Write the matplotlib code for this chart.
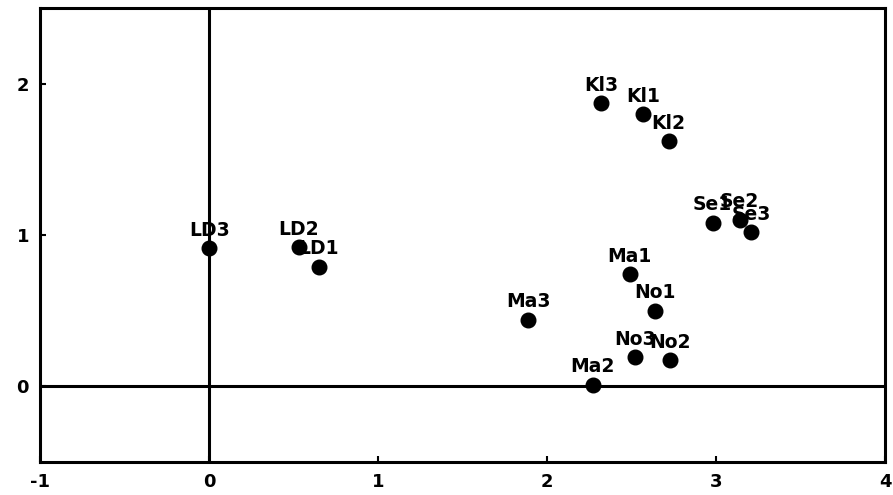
import matplotlib
matplotlib.use("Agg")
import matplotlib.pyplot as plt

# Sample scores on the first two dimensions
labels = ["LD3", "LD2", "LD1", "Kl3", "Kl1", "Kl2", "Se1", "Se2", "Se3",
          "Ma1", "No1", "Ma3", "No3", "No2", "Ma2"]
dim1 = [0.00, 0.53, 0.65, 2.32, 2.57, 2.72, 2.98, 3.14, 3.21,
        2.49, 2.64, 1.89, 2.52, 2.73, 2.27]
dim2 = [0.91, 0.92, 0.79, 1.87, 1.80, 1.62, 1.08, 1.10, 1.02,
        0.74, 0.50, 0.44, 0.19, 0.17, 0.01]

x_ticks = [-1, 0, 1, 2, 3, 4]
y_ticks = [0, 1, 2]

plt.rcParams["font.family"] = ["DejaVu Sans"]
plt.rcParams["axes.unicode_minus"] = False

fig = plt.figure(figsize=(8.93, 4.95), dpi=100)
ax = fig.add_axes([0.045, 0.067, 0.946, 0.917])

ax.axhline(0, color="black", lw=2.2, zorder=1)
ax.axvline(0, color="black", lw=2.2, zorder=1)

ax.plot(dim1, dim2, "o", color="black", ms=10.5, zorder=3)
for lab, x, y in zip(labels, dim1, dim2):
    ax.annotate(lab, (x, y), xytext=(0, 6), textcoords="offset points",
                ha="center", va="bottom", fontsize=13.5, fontweight="bold",
                color="black", zorder=4)

ax.set_xlim(-1, 4)
ax.set_ylim(-0.5, 2.5)
ax.set_xticks(x_ticks)
ax.set_yticks(y_ticks)
ax.tick_params(direction="in", length=4, width=1.5, labelsize=13, pad=8)
for t in ax.get_xticklabels() + ax.get_yticklabels():
    t.set_fontweight("bold")
for s in ax.spines.values():
    s.set_linewidth(2.2)

fig.savefig("out.png", dpi=100)
